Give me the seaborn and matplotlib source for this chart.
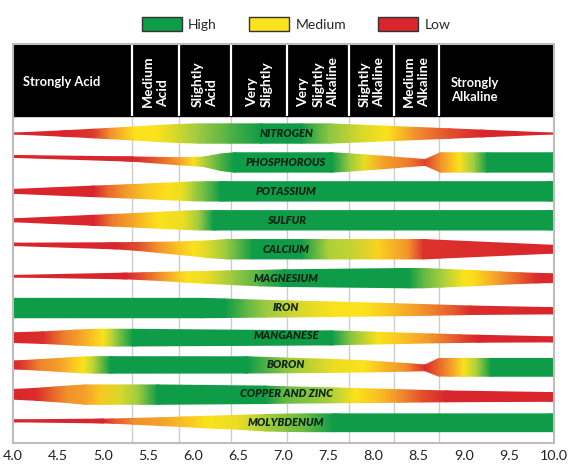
import numpy as np
import seaborn as sns
import matplotlib.pyplot as plt
from matplotlib.patches import Patch

# pH axis
ph_ticks = np.arange(4.0, 10.01, 0.5)
class_edges = [5.32, 5.84, 6.42, 7.04, 7.73, 8.23, 8.72]

# header labels
acid_left = 'Strongly Acid'
vertical_classes = ['Medium\nAcid', 'Slightly\nAcid', 'Very\nSlightly',
                    'Very\nSlightly\nAlkaline', 'Slightly\nAlkaline', 'Medium\nAlkaline']
alk_right = 'Strongly\nAlkaline'

nutrients = ['NITROGEN', 'PHOSPHOROUS', 'POTASSIUM', 'SULFUR', 'CALCIUM',
             'MAGNESIUM', 'IRON', 'MANGANESE', 'BORON', 'COPPER AND ZINC',
             'MOLYBDENUM']

# availability: level 0 = low (red), 0.5 = medium (yellow), 1 = high (green)
# width = relative band thickness, shift = band centre offset (in half-widths)
nitrogen = dict(
    ph=[4.0, 4.6, 4.9, 5.08, 5.35, 5.6, 5.8, 6.07, 6.4, 6.75, 7.2, 7.5, 7.85, 8.15, 8.46, 8.84, 9.2, 10.0],
    level=[0, 0, 0.05, 0.25, 0.5, 0.5, 0.6, 0.75, 0.88, 1, 1, 0.78, 0.6, 0.5, 0.25, 0.1, 0, 0],
    width=[0.04, 0.3, 0.45, 0.54, 0.68, 0.82, 0.92, 1, 1, 1, 1, 1, 0.87, 0.75, 0.63, 0.49, 0.35, 0.04])
phosphorous = dict(
    ph=[4.0, 5.32, 5.55, 5.85, 6.0, 6.12, 6.3, 6.45, 7.54, 7.73, 7.9, 8.1, 8.39, 8.57, 8.74, 8.95, 9.12, 9.26, 10.0],
    level=[0, 0, 0.1, 0.3, 0.5, 0.7, 0.88, 1, 1, 0.75, 0.55, 0.3, 0.2, 0.07, 0.25, 0.5, 0.75, 1, 1],
    width=[0.1, 0.22, 0.28, 0.37, 0.42, 0.5, 0.85, 1, 1, 0.9, 0.78, 0.65, 0.43, 0.3, 1, 1, 1, 1, 1],
    shift=[-0.62, -0.35, -0.25, -0.12, -0.09, -0.07, -0.02, 0, 0, 0, 0, 0, 0, 0, 0, 0, 0, 0, 0])
potassium = dict(
    ph=[4.0, 4.9, 5.05, 5.25, 5.45, 5.7, 5.88, 6.0, 6.15, 6.3, 10.0],
    level=[0, 0, 0.15, 0.28, 0.4, 0.5, 0.55, 0.72, 0.85, 1, 1],
    width=[0.2, 0.55, 0.6, 0.68, 0.75, 0.86, 0.93, 0.98, 1, 1, 1])
sulfur = dict(
    ph=[4.0, 4.9, 5.1, 5.35, 5.6, 5.9, 6.07, 6.22, 10.0],
    level=[0, 0, 0.2, 0.33, 0.5, 0.55, 0.75, 1, 1],
    width=[0.15, 0.52, 0.6, 0.7, 0.82, 0.95, 1, 1, 1])
calcium = dict(
    ph=[4.0, 5.15, 5.4, 5.6, 5.8, 6.0, 6.15, 6.37, 6.66, 7.2, 7.5, 7.75, 8.05, 8.39, 8.55, 10.0],
    level=[0, 0, 0.1, 0.25, 0.38, 0.5, 0.58, 0.75, 1, 1, 0.7, 0.65, 0.45, 0.25, 0.03, 0],
    width=[0.12, 0.32, 0.42, 0.52, 0.62, 0.75, 0.85, 1, 1, 1, 1, 1, 1, 1, 1, 0.4],
    shift=[-0.5, -0.35, -0.28, -0.2, -0.12, -0.06, 0, 0, 0, 0, 0, 0, 0, 0, 0, 0])
magnesium = dict(
    ph=[4.0, 5.26, 5.45, 5.63, 5.93, 6.15, 6.44, 6.74, 7.0, 8.39, 8.55, 8.76, 9.0, 9.12, 9.39, 9.64, 9.8, 10.0],
    level=[0, 0, 0.12, 0.25, 0.5, 0.55, 0.75, 0.88, 1, 1, 0.85, 0.72, 0.5, 0.48, 0.28, 0.12, 0.02, 0],
    width=[0.08, 0.3, 0.36, 0.42, 0.54, 0.62, 0.72, 0.8, 0.86, 1, 1, 0.92, 0.82, 0.78, 0.65, 0.55, 0.5, 0.45],
    shift=[-0.2, -0.22, -0.2, -0.18, -0.12, -0.08, -0.05, 0, 0, 0, 0, 0, 0, 0, 0, 0, 0, 0])
iron = dict(
    ph=[4.0, 6.1, 6.35, 6.6, 6.8, 7.1, 7.55, 7.9, 8.2, 8.55, 8.9, 9.06, 10.0],
    level=[1, 1, 1, 0.85, 0.75, 0.62, 0.5, 0.5, 0.4, 0.25, 0.12, 0.02, 0],
    width=[1, 1, 0.96, 0.9, 0.87, 0.82, 0.75, 0.68, 0.63, 0.56, 0.48, 0.44, 0.32],
    shift=[0.1, 0.1, 0.12, 0.15, 0.17, 0.2, 0.22, 0.25, 0.27, 0.3, 0.32, 0.33, 0.38])
manganese = dict(
    ph=[4.0, 4.33, 4.55, 4.7, 4.85, 5.0, 5.12, 5.33, 7.54, 7.73, 8.05, 8.39, 8.65, 8.95, 9.15, 10.0],
    level=[0, 0.02, 0.2, 0.28, 0.38, 0.5, 0.72, 1, 1, 0.8, 0.5, 0.38, 0.25, 0.1, 0, 0],
    width=[0.5, 0.6, 0.7, 0.78, 0.84, 0.87, 0.87, 0.86, 0.72, 0.68, 0.6, 0.52, 0.46, 0.4, 0.36, 0.26],
    shift=[0.17] * 8 + [0.2, 0.2, 0.22, 0.24, 0.25, 0.27, 0.28, 0.35])
boron = dict(
    ph=[4.0, 4.1, 4.3, 4.52, 4.65, 4.78, 4.9, 5.08, 6.6, 7.0, 7.54, 7.9, 8.1, 8.35, 8.57, 8.72, 8.85, 9.0, 9.15, 9.3, 10.0],
    level=[0, 0.05, 0.22, 0.3, 0.4, 0.5, 0.68, 1, 1, 0.78, 0.55, 0.5, 0.38, 0.25, 0.02, 0.15, 0.28, 0.5, 0.72, 1, 1],
    width=[0.42, 0.45, 0.55, 0.68, 0.75, 0.82, 0.85, 0.85, 0.84, 0.76, 0.67, 0.58, 0.5, 0.4, 0.3, 0.9, 0.92, 0.92, 0.92, 0.92, 0.92],
    shift=[0] * 9 + [0.05, 0.1, 0.15, 0.2, 0.25, 0.3, 0.25, 0.25, 0.25, 0.25, 0.25, 0.25])
copper_zinc = dict(
    ph=[4.0, 4.26, 4.45, 4.6, 4.8, 4.96, 5.2, 5.4, 5.6, 6.8, 7.0, 7.5, 7.8, 8.09, 8.28, 8.54, 8.8, 10.0],
    level=[0, 0.02, 0.15, 0.25, 0.3, 0.42, 0.6, 0.75, 1, 1, 0.85, 0.72, 0.5, 0.38, 0.25, 0.1, 0, 0],
    width=[0.5, 0.62, 0.75, 0.85, 1, 1, 1, 1, 1, 0.9, 0.85, 0.78, 0.73, 0.68, 0.65, 0.6, 0.56, 0.45],
    shift=[0.05, 0.05, 0.05, 0.05, 0.08, 0.08, 0.08, 0.08, 0.08, 0.1, 0.12, 0.15, 0.18, 0.2, 0.22, 0.24, 0.26, 0.32])
molybdenum = dict(
    ph=[4.0, 5.0, 5.1, 5.35, 5.63, 5.9, 6.15, 6.5, 6.8, 7.05, 7.25, 7.55, 10.0],
    level=[0, 0, 0.1, 0.25, 0.3, 0.4, 0.5, 0.55, 0.72, 0.8, 0.85, 1, 1],
    width=[0.1, 0.2, 0.22, 0.3, 0.4, 0.5, 0.6, 0.72, 0.85, 0.9, 0.92, 0.92, 0.92],
    shift=[-0.2, -0.18, -0.17, -0.15, -0.12, -0.1, -0.07, -0.05, 0, 0, 0, 0, 0])

bands = [nitrogen, phosphorous, potassium, sulfur, calcium, magnesium,
         iron, manganese, boron, copper_zinc, molybdenum]

legend_labels = ['High', 'Medium', 'Low']

# colours
RED, ORANGE, YELLOW, YGREEN, GREEN = '#d9262c', '#f2912c', '#fde21c', '#9ccb42', '#0f9c48'
cmap = sns.blend_palette([RED, ORANGE, YELLOW, YGREEN, GREEN], as_cmap=True)

sns.set_theme(style='white')
plt.rcParams['font.family'] = ['Lato', 'DejaVu Sans']

fig = plt.figure(figsize=(5.72, 4.76), dpi=100)
ax = fig.add_axes([0.0227, 0.0693, 0.9458, 0.8382])

HALF = 0.335          # full half-thickness of a band in row units
HEAD_BOT = -0.605
ax.set_xlim(4, 10)
ax.set_ylim(10.70, -3.094)

# header
ax.axhspan(-3.094, HEAD_BOT, color='black', zorder=1)
ax.vlines(class_edges, -3.094, HEAD_BOT, color='white', lw=1.6, zorder=2)
ax.vlines(class_edges, HEAD_BOT, 10.70, color='#cdcdcd', lw=1.0, zorder=0)

ax.text(4.11, -1.78, acid_left, color='white', fontsize=9.3, fontweight='bold',
        va='center', ha='left', zorder=3)
cells = [4.0] + class_edges + [10.0]
for i, lab in enumerate(vertical_classes):
    xc = (cells[i + 1] + cells[i + 2]) / 2
    ax.text(xc, -0.92, lab, color='white', fontsize=10, fontweight='bold',
            rotation=90, ha='center', va='bottom', multialignment='left',
            linespacing=1.28, zorder=3)
ax.text(8.86, -1.52, alk_right, color='white', fontsize=9.3, fontweight='bold',
        va='center', ha='left', linespacing=1.2, zorder=3)

# bands
for row, (name, b) in enumerate(zip(nutrients, bands)):
    ph = np.asarray(b['ph'], float)
    lvl = np.asarray(b['level'], float)
    w = np.asarray(b['width'], float) * HALF
    sh = np.asarray(b.get('shift', np.zeros(len(ph))), float) * HALF
    X = np.vstack([ph, ph])
    Y = np.vstack([row + sh - w, row + sh + w])
    C = np.vstack([lvl, lvl])
    ax.pcolormesh(X, Y, C, shading='gouraud', cmap=cmap, vmin=0, vmax=1,
                  zorder=2, antialiased=True)
    ax.text(7.03, row, name, fontsize=7.9, fontweight='heavy', fontstyle='italic',
            color='#0f2616', ha='center', va='center', zorder=4)

ax.set_yticks([])
ax.set_xticks(ph_ticks)
ax.set_xticklabels([f'{t:.1f}' for t in ph_ticks], fontsize=10.3, color='#222222')
ax.tick_params(axis='x', length=0, pad=5)
for s in ax.spines.values():
    s.set_color('#bdbdbd')
    s.set_linewidth(1.5)

handles = [Patch(facecolor=c, edgecolor='#333333', lw=1.0) for c in (GREEN, YELLOW, RED)]
ax.legend(handles, legend_labels, ncol=3, frameon=False, loc='center',
          bbox_to_anchor=(0.523, 1.05), fontsize=10, handlelength=2.9,
          handleheight=1.2, handletextpad=0.45, columnspacing=2.3)

fig.savefig('out.png', dpi=100)
